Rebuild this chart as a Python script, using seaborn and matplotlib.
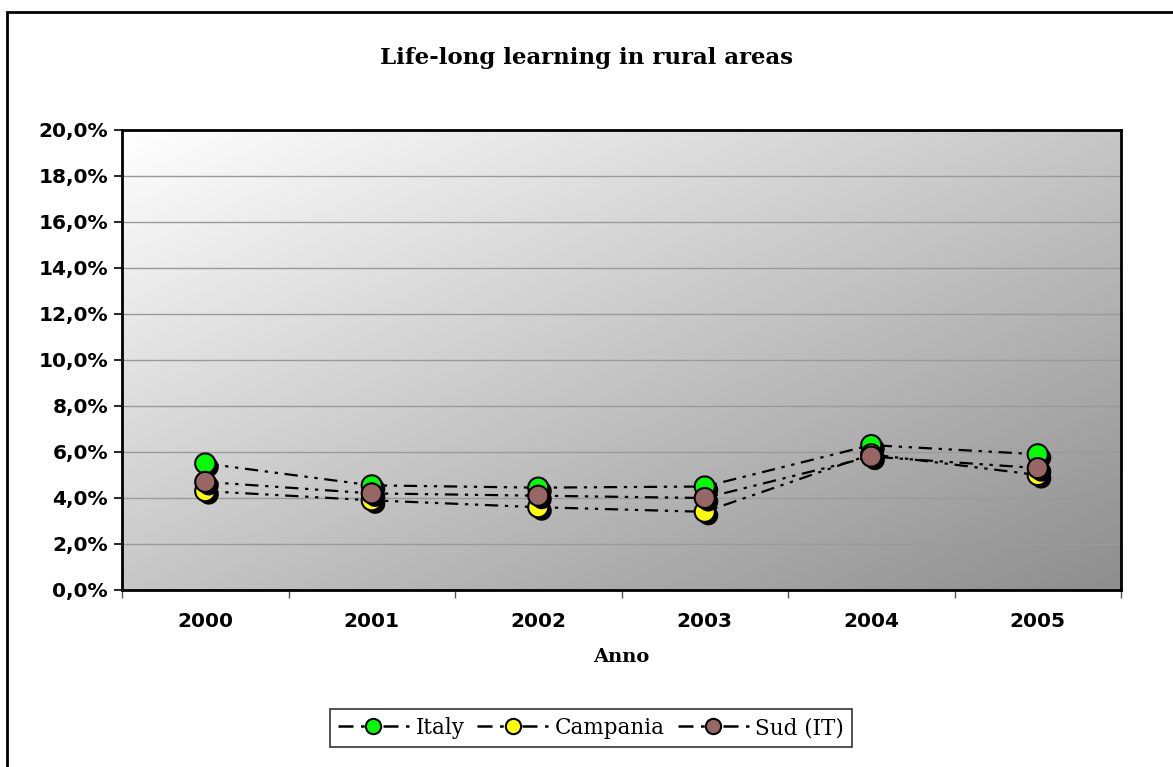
import numpy as np
import pandas as pd
import matplotlib.pyplot as plt
import matplotlib.patheffects as pe
from matplotlib.lines import Line2D
from matplotlib.patches import Rectangle
from matplotlib.colors import LinearSegmentedColormap
import seaborn as sns

years = ["2000", "2001", "2002", "2003", "2004", "2005"]
italy = [5.5, 4.55, 4.45, 4.5, 6.3, 5.9]
campania = [4.3, 3.9, 3.6, 3.4, 5.9, 5.0]
sud = [4.7, 4.2, 4.1, 4.0, 5.8, 5.3]
series = ["Italy", "Campania", "Sud (IT)"]
colors = ["#00ff00", "#ffff00", "#996666"]

df = pd.DataFrame({
    "Anno": years * 3,
    "value": italy + campania + sud,
    "serie": sum([[s] * len(years) for s in series], []),
})
df["x"] = df["Anno"].map({y: i for i, y in enumerate(years)})

sns.set_style("white")
plt.rcParams["text.color"] = "black"
plt.rcParams["xtick.color"] = "black"
plt.rcParams["ytick.color"] = "black"
plt.rcParams["axes.labelcolor"] = "black"

fig = plt.figure(figsize=(11.73, 7.67), dpi=100)
ax = fig.add_axes([122 / 1173, 1 - 590 / 767, (1121 - 122) / 1173, (590 - 130) / 767])

# gradient background, white top-left to grey bottom-right
gx, gy = np.meshgrid(np.linspace(0, 1, 200), np.linspace(0, 1, 200))
grad = (gx + gy) / 2
cmap = LinearSegmentedColormap.from_list("bg", ["#ffffff", "#8e8e8e"])
ax.imshow(grad, cmap=cmap, extent=[0, 1, 0, 1], transform=ax.transAxes, aspect="auto",
          zorder=0, origin="upper", interpolation="bilinear")

dash = (6, 3, 1.5, 3, 1.5, 3)
sns.lineplot(data=df, x="x", y="value", hue="serie", palette=["black"] * 3,
             linewidth=1.6, legend=False, ax=ax, zorder=3, estimator=None)
for ln in ax.get_lines():
    ln.set_dashes(dash)

shadow = [pe.SimplePatchShadow(offset=(2.5, -2.5), shadow_rgbFace="black", alpha=1), pe.Normal()]
for s, c in zip(series, colors):
    sub = df[df["serie"] == s]
    sns.scatterplot(x=sub["x"], y=sub["value"], color=c, s=210, edgecolor="black",
                    linewidth=1.5, ax=ax, zorder=4, legend=False,
                    path_effects=shadow)

ax.set_xlim(-0.5, 5.5)
ax.set_ylim(0, 20)
ax.set_yticks(np.arange(0, 21, 2))
ax.set_yticklabels([f"{v:.1f}%".replace(".", ",") for v in np.arange(0, 21, 2)])
ax.set_xticks(range(6))
ax.set_xticklabels(years)
ax.set_xticks(np.arange(-0.5, 6, 1), minor=True)
ax.tick_params(axis="x", which="major", length=0, pad=16)
ax.tick_params(axis="x", which="minor", length=6, direction="out", width=1,
               color="#555555", bottom=True)
ax.tick_params(axis="y", length=6, direction="out", width=1.2, left=True, pad=4)
for lab in ax.get_xticklabels() + ax.get_yticklabels():
    lab.set_fontweight("bold")
    lab.set_fontsize(14.5)
    lab.set_family("DejaVu Sans")

ax.grid(axis="y", color="#9a9a9a", linewidth=1)
ax.set_axisbelow(False)
for ln in ax.get_ygridlines():
    ln.set_zorder(1)
for sp in ax.spines.values():
    sp.set_linewidth(2)
    sp.set_color("black")
    sp.set_zorder(5)

ax.set_xlabel("Anno", fontsize=14, fontweight="bold", family="DejaVu Serif", labelpad=12)
ax.set_ylabel("")
fig.text(0.5, 1 - 58 / 767, "Life-long learning in rural areas", ha="center", va="center",
         fontsize=16.5, fontweight="bold", family="DejaVu Serif")

handles = [Line2D([0], [0], color="black", dashes=dash, linewidth=1.8, marker="o",
                  markersize=11, markerfacecolor=c, markeredgecolor="black",
                  markeredgewidth=1.5) for c in colors]
leg = fig.legend(handles, series, loc="center", bbox_to_anchor=(591 / 1173, 1 - 728 / 767),
                 ncol=3, frameon=True, fancybox=False, edgecolor="black",
                 prop={"family": "DejaVu Serif", "size": 15.5}, handlelength=3.3,
                 handletextpad=0.3, columnspacing=0.6, borderpad=0.35)
leg.get_frame().set_linewidth(1.2)

fig.patches.append(Rectangle((7 / 1173, -0.1), 1.2, 1 - 12 / 767 + 0.1, transform=fig.transFigure,
                             fill=False, edgecolor="black", linewidth=2, zorder=10))

fig.savefig("out.png", dpi=100)
